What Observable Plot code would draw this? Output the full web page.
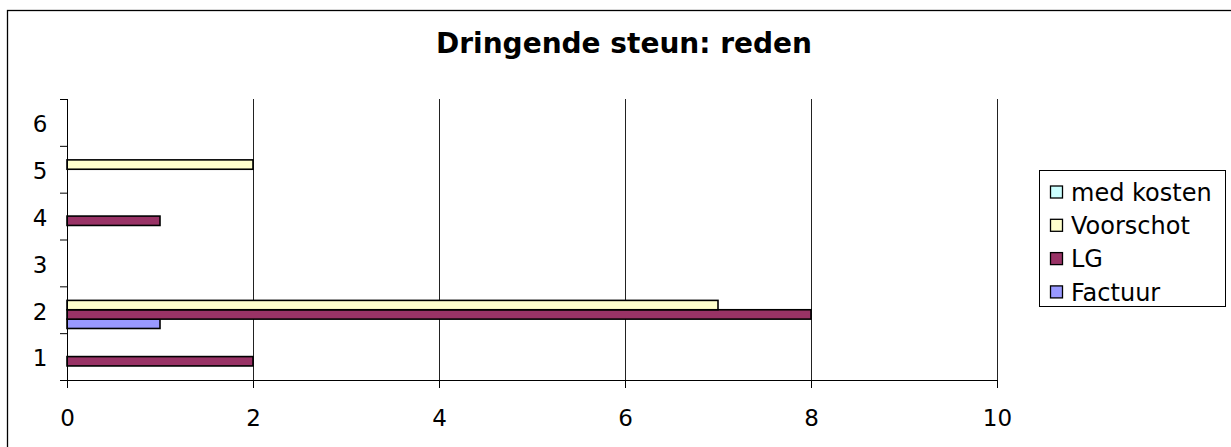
<!DOCTYPE html>
<html>
<head>
<meta charset="utf-8">
<script src="https://cdn.jsdelivr.net/npm/d3@7"></script>
<script src="https://cdn.jsdelivr.net/npm/@observablehq/plot@0.6"></script>
<style>
  html, body { margin: 0; padding: 0; background: #fff; }
  #chart { width: 1231px; height: 447px; overflow: hidden; }
</style>
</head>
<body>
<div id="chart"></div>
<script>
// ---- data ----
const title = "Dringende steun: reden";
const categories = ["1", "2", "3", "4", "5", "6"];
const seriesNames = ["Factuur", "LG", "Voorschot", "med kosten"];   // bottom -> top within a group
const seriesColors = ["#9999FF", "#993366", "#FFFFCC", "#CCFFFF"];
const factuur   = [0, 1, 0, 0, 0, 0];
const lg        = [2, 8, 0, 1, 0, 0];
const voorschot = [0, 7, 0, 0, 2, 0];
const medKosten = [0, 0, 0, 0, 0, 0];
const xTicks = [0, 2, 4, 6, 8, 10];

// ---- derived table ----
const seriesValues = [factuur, lg, voorschot, medKosten];
const nS = seriesNames.length;
const barH = 1 / (nS + 1);
const rows = [];
categories.forEach((c, ci) => {
  seriesValues.forEach((vals, si) => {
    const v = vals[ci];
    if (v > 0) {
      const y1 = (ci + 1) - 0.5 + barH / 2 + si * barH;
      rows.push({cat: c, series: seriesNames[si], value: v, y1, y2: y1 + barH});
    }
  });
});
const catPos = categories.map((c, i) => i + 1);
const boundaries = d3.range(0, categories.length + 1).map(i => i + 0.5);

const W = 1231, H = 447;
const font = "DejaVu Sans, Verdana, sans-serif";
const tickFont = 23;

const plot = Plot.plot({
  width: W,
  height: H,
  marginLeft: 67,
  marginRight: 234,
  marginTop: 99,
  marginBottom: 67,
  style: {fontFamily: font, fontSize: tickFont + "px", background: "#fff", color: "#000"},
  x: {domain: [0, 10], ticks: xTicks},
  y: {domain: [0.5, categories.length + 0.5]},
  color: {domain: seriesNames, range: seriesColors},
  marks: [
    Plot.gridX(xTicks.filter(d => d > 0), {stroke: "#222", strokeOpacity: 1, strokeWidth: 1}),
    Plot.rect(rows, {x1: 0, x2: "value", y1: "y1", y2: "y2", fill: "series", stroke: "#000", strokeWidth: 1.6}),
    Plot.ruleX([0], {stroke: "#000", strokeWidth: 1}),
    Plot.ruleY([0.5], {stroke: "#000", strokeWidth: 1}),
    Plot.axisX(xTicks, {tickSize: 8, tickPadding: 21, label: null, stroke: "#000", fontSize: tickFont}),
    Plot.axisY(boundaries, {tickSize: 7, tickFormat: () => "", label: null, stroke: "#000"}),
    Plot.axisY(catPos, {tickSize: 0, tickPadding: 20, label: null, fontSize: tickFont, dy: 2,
      tickFormat: d => categories[d - 1]})
  ]
});

document.getElementById("chart").appendChild(plot);
const svg = d3.select(plot);

// outer border (extends past right/bottom edge like reference)
svg.insert("rect", ":first-child")
  .attr("x", 7.5).attr("y", 10.5).attr("width", W).attr("height", H)
  .attr("fill", "none").attr("stroke", "#000").attr("stroke-width", 1.3);

// title
svg.append("text")
  .attr("x", 624).attr("y", 53)
  .attr("text-anchor", "middle")
  .attr("font-family", font).attr("font-weight", "bold").attr("font-size", 28)
  .attr("fill", "#000")
  .text(title);

// legend (top to bottom: reverse of series order)
const lgX = 1039.5, lgY = 170.5, lgW = 186, lgH = 136;
const leg = svg.append("g").attr("text-anchor", "start");
leg.append("rect").attr("x", lgX).attr("y", lgY).attr("width", lgW).attr("height", lgH)
  .attr("fill", "#fff").attr("stroke", "#000").attr("stroke-width", 1);
const legendOrder = seriesNames.slice().reverse();
legendOrder.forEach((name, i) => {
  const cy = 192 + i * 33.3;
  const color = seriesColors[seriesNames.indexOf(name)];
  leg.append("rect").attr("x", 1050.5).attr("y", cy - 6).attr("width", 12).attr("height", 12)
    .attr("fill", color).attr("stroke", "#000").attr("stroke-width", 1.3);
  leg.append("text").attr("x", 1071).attr("y", cy).attr("dy", "0.36em")
    .attr("text-anchor", "start")
    .attr("font-family", font).attr("font-size", 24).attr("fill", "#000")
    .text(name);
});
</script>
</body>
</html>
